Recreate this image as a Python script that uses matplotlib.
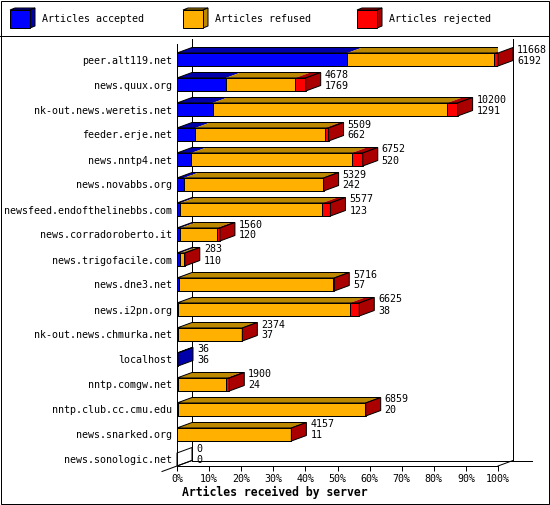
import matplotlib
matplotlib.use('Agg')
import matplotlib.pyplot as plt
from matplotlib.patches import Polygon, Rectangle

# data (articles per server)
hosts = ['peer.alt119.net', 'news.quux.org', 'nk-out.news.weretis.net',
         'feeder.erje.net', 'news.nntp4.net', 'news.novabbs.org',
         'newsfeed.endofthelinebbs.com', 'news.corradoroberto.it',
         'news.trigofacile.com', 'news.dne3.net', 'news.i2pn.org',
         'nk-out.news.chmurka.net', 'localhost', 'nntp.comgw.net',
         'nntp.club.cc.cmu.edu', 'news.snarked.org', 'news.sonologic.net']
offered = [11668, 4678, 10200, 5509, 6752, 5329, 5577, 1560, 283,
           5716, 6625, 2374, 36, 1900, 6859, 4157, 0]
accepted = [6192, 1769, 1291, 662, 520, 242, 123, 120, 110,
            57, 38, 37, 36, 24, 20, 11, 0]
rejected = [145, 378, 375, 130, 400, 30, 290, 110, 23,
            40, 340, 10, 0, 110, 30, 10, 0]
refused = [o - a - r for o, a, r in zip(offered, accepted, rejected)]

series = ['Articles accepted', 'Articles refused', 'Articles rejected']
front_col = ['#0000ff', '#ffb000', '#ff0000']
dark_col = ['#0000aa', '#bb8800', '#aa0000']
ticks = list(range(0, 101, 10))
tick_labels = ['%d%%' % t for t in ticks]

W, H = 550, 505
LW = 0.72  # 1 pixel
plt.rcParams['font.family'] = 'DejaVu Sans Mono'

fig = plt.figure(figsize=(W / 100, H / 100), dpi=100)

# frame + legend, drawn in pixel coords
cv = fig.add_axes([0, 0, 1, 1])
cv.set_xlim(0, W)
cv.set_ylim(H, 0)
cv.axis('off')
cv.add_patch(Rectangle((0.5, 0.5), W - 1.5, H - 1.5, fill=False, ec='black', lw=LW))
cv.plot([0, W], [35.5, 35.5], color='black', lw=LW)
for name, fc, dc, x0 in zip(series, front_col, dark_col, [10, 183, 357]):
    cv.add_patch(Polygon([(x0, 10), (x0 + 20, 10), (x0 + 25, 8), (x0 + 5, 8)],
                         fc=dc, ec='black', lw=LW))
    cv.add_patch(Polygon([(x0 + 20, 10), (x0 + 25, 8), (x0 + 25, 26), (x0 + 20, 28)],
                         fc=dc, ec='black', lw=LW))
    cv.add_patch(Rectangle((x0, 10), 20, 18, fc=fc, ec='black', lw=LW))
    cv.text(x0 + 32, 19.5, name, fontsize=7.2, va='center', ha='left')

# main chart: front plane spans x 177..498 px, rows every 25 px
ax_left, ax_right, ax_top, ax_bot = 177, 498, 44, 466
row0, row_step = 59.5, 25.0
ax = fig.add_axes([ax_left / W, 1 - ax_bot / H, (ax_right - ax_left) / W,
                   (ax_bot - ax_top) / H])
ax.patch.set_alpha(0)
y_top = (ax_top - row0) / row_step
y_bot = (ax_bot - row0) / row_step
ax.set_xlim(0, 100)
ax.set_ylim(y_bot, y_top)

px_per_pct = (ax_right - ax_left) / 100.0
dx = 15 / px_per_pct
dy = 5.5 / row_step
bar_h = 13 / row_step

# back walls and floor
kw = dict(color='black', lw=LW, clip_on=False, zorder=1)
ax.plot([dx, dx], [y_top - dy, y_bot - dy], **kw)
ax.plot([100 + dx, 100 + dx], [y_top - dy, y_bot - dy], **kw)
ax.plot([dx, 100 + dx + 19 / px_per_pct], [y_bot - dy, y_bot - dy], **kw)
ax.plot([100, 100 + dx], [y_bot, y_bot - dy], **kw)
ax.plot([-dx, dx], [y_bot + dy, y_bot - dy], **kw)

vmax = max(offered)
for i in range(len(hosts)):
    segs = [accepted[i], refused[i], rejected[i]]
    top = i - bar_h / 2
    bot = i + bar_h / 2
    left = 0.0
    last = None
    for k, v in enumerate(segs):
        w = v / vmax * 100
        if w <= 0:
            continue
        ax.barh(i, w, left=left, height=bar_h, color=front_col[k],
                edgecolor='black', linewidth=LW, zorder=3)
        ax.add_patch(Polygon([(left, top), (left + w, top), (left + w + dx, top - dy),
                              (left + dx, top - dy)], fc=dark_col[k], ec='none', zorder=3))
        left += w
        last = k
    end = left
    if end > 0:
        ax.add_patch(Polygon([(0, top), (end, top), (end + dx, top - dy), (dx, top - dy)],
                             fill=False, ec='black', lw=LW, zorder=4))
    ax.add_patch(Polygon([(end, top), (end + dx, top - dy), (end + dx, bot - dy), (end, bot)],
                         fill=last is not None,
                         fc=dark_col[last] if last is not None else 'none',
                         ec='black', lw=LW, zorder=4, clip_on=False))
    ax.annotate(str(offered[i]), xy=(end + dx, i), xytext=(4 * LW, 10 * LW),
                textcoords='offset points', fontsize=7.2, ha='left', va='center',
                annotation_clip=False)
    ax.annotate(str(accepted[i]), xy=(end + dx, i), xytext=(4 * LW, -1 * LW),
                textcoords='offset points', fontsize=7.2, ha='left', va='center',
                annotation_clip=False)

ax.spines['top'].set_visible(False)
ax.spines['right'].set_visible(False)
ax.spines['left'].set_linewidth(LW)
ax.spines['bottom'].set_linewidth(LW)
ax.set_xticks(ticks)
ax.set_xticklabels(tick_labels)
ax.set_yticks(range(len(hosts)))
ax.set_yticklabels(hosts)
ax.tick_params(axis='x', length=5 * LW, width=LW, pad=2.5, labelsize=7.2)
ax.tick_params(axis='y', length=0, pad=5 * LW, labelsize=7.2)

fig.text(0.5, 1 - 492 / H, 'Articles received by server', ha='center', va='center',
         fontsize=8.3, fontweight='bold')

fig.savefig('out.png', dpi=100)
